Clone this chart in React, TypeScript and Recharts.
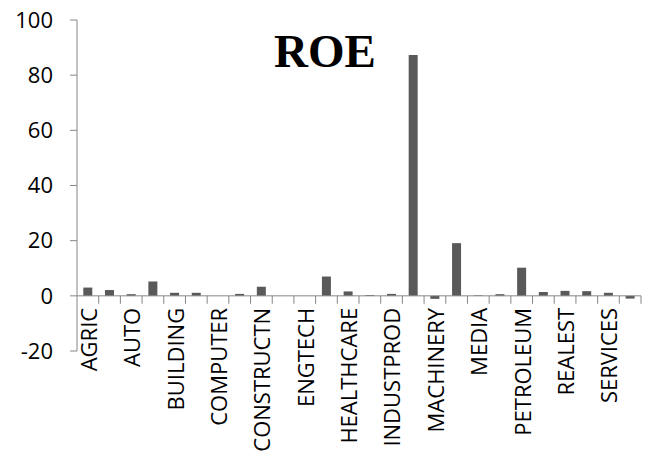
import React from "react";
import { Bar, BarChart, ReferenceLine, XAxis, YAxis } from "recharts";

// sectors, only every other one gets a label on the axis
const sectors = [
  "AGRIC", "AIRLINES", "AUTO", "BANKS", "BUILDING", "CHEMICALS", "COMPUTER", "CONSTMAT",
  "CONSTRUCTN", "ELECTRIC", "ENGTECH", "FOOD", "HEALTHCARE", "HOTELS", "INDUSTPROD",
  "INSURANCE", "MACHINERY", "MATERIALS", "MEDIA", "METALS", "PETROLEUM", "PHARMA",
  "REALEST", "RETAIL", "SERVICES", "TRANSPORT",
];
const roe = [
  3.0, 2.1, 0.6, 5.2, 1.1, 1.1, 0, 0.7, 3.3, 0, 0, 7.0, 1.6, 0.3, 0.7, 87.3, -1.1,
  19.1, 0.2, 0.6, 10.2, 1.4, 1.8, 1.7, 1.1, -1.0,
];
const yTicks = [-20, 0, 20, 40, 60, 80, 100];

const data = sectors.map((name, i) => ({ name, roe: roe[i] }));

const W = 647;
const H = 459;
const M = { top: 20, right: 6, left: 0, bottom: 0 };
const Y_AXIS_W = 77;
const X_AXIS_H = 108;
const PLOT_W = W - M.left - M.right - Y_AXIS_W;
const PLOT_H = H - M.top - M.bottom - X_AXIS_H;
const Y_MIN = -20;
const Y_MAX = 100;
const AXIS = "#868686";
const FONT = "'Open Sans', sans-serif";

// tick marks sit between categories and the axis is the zero line, not the plot bottom
function SectorTick(props: any) {
  const { x, y, payload } = props;
  const band = PLOT_W / sectors.length;
  const zeroY = y - (PLOT_H * (0 - Y_MIN)) / (Y_MAX - Y_MIN);
  const showLabel = payload.index % 2 === 0;
  const tx = x + 1;
  const ty = zeroY + 12;
  return (
    <g>
      <line x1={x + band / 2} x2={x + band / 2} y1={zeroY} y2={zeroY + 8} stroke={AXIS} />
      {showLabel && (
        <text
          x={tx}
          y={ty}
          dy="0.36em"
          textAnchor="end"
          transform={`rotate(-90, ${tx}, ${ty})`}
          fill="#000"
          fontSize={22}
          fontFamily={FONT}
        >
          {payload.value}
        </text>
      )}
    </g>
  );
}

export default function App() {
  return (
    <div style={{ position: "absolute", left: 0, top: 0, width: W, height: H, background: "#fff" }}>
      <BarChart width={W} height={H} data={data} margin={M} barCategoryGap="29%">
        <XAxis
          dataKey="name"
          interval={0}
          height={X_AXIS_H}
          axisLine={false}
          tickLine={false}
          tickSize={0}
          tickMargin={0}
          tick={<SectorTick />}
        />
        <YAxis
          domain={[Y_MIN, Y_MAX]}
          ticks={yTicks}
          width={Y_AXIS_W}
          stroke={AXIS}
          tickSize={7}
          tickMargin={17}
          tick={{ fill: "#000", fontSize: 22, fontFamily: FONT }}
        />
        <ReferenceLine y={0} stroke={AXIS} />
        <Bar dataKey="roe" fill="#595959" isAnimationActive={false} />
      </BarChart>
      <svg width={W} height={H} style={{ position: "absolute", left: 0, top: 0, pointerEvents: "none" }}>
        <text
          x={325}
          y={67}
          textAnchor="middle"
          fontFamily="'Liberation Serif', 'Times New Roman', serif"
          fontWeight="bold"
          fontSize={47}
          fill="#000"
        >
          ROE
        </text>
      </svg>
    </div>
  );
}
